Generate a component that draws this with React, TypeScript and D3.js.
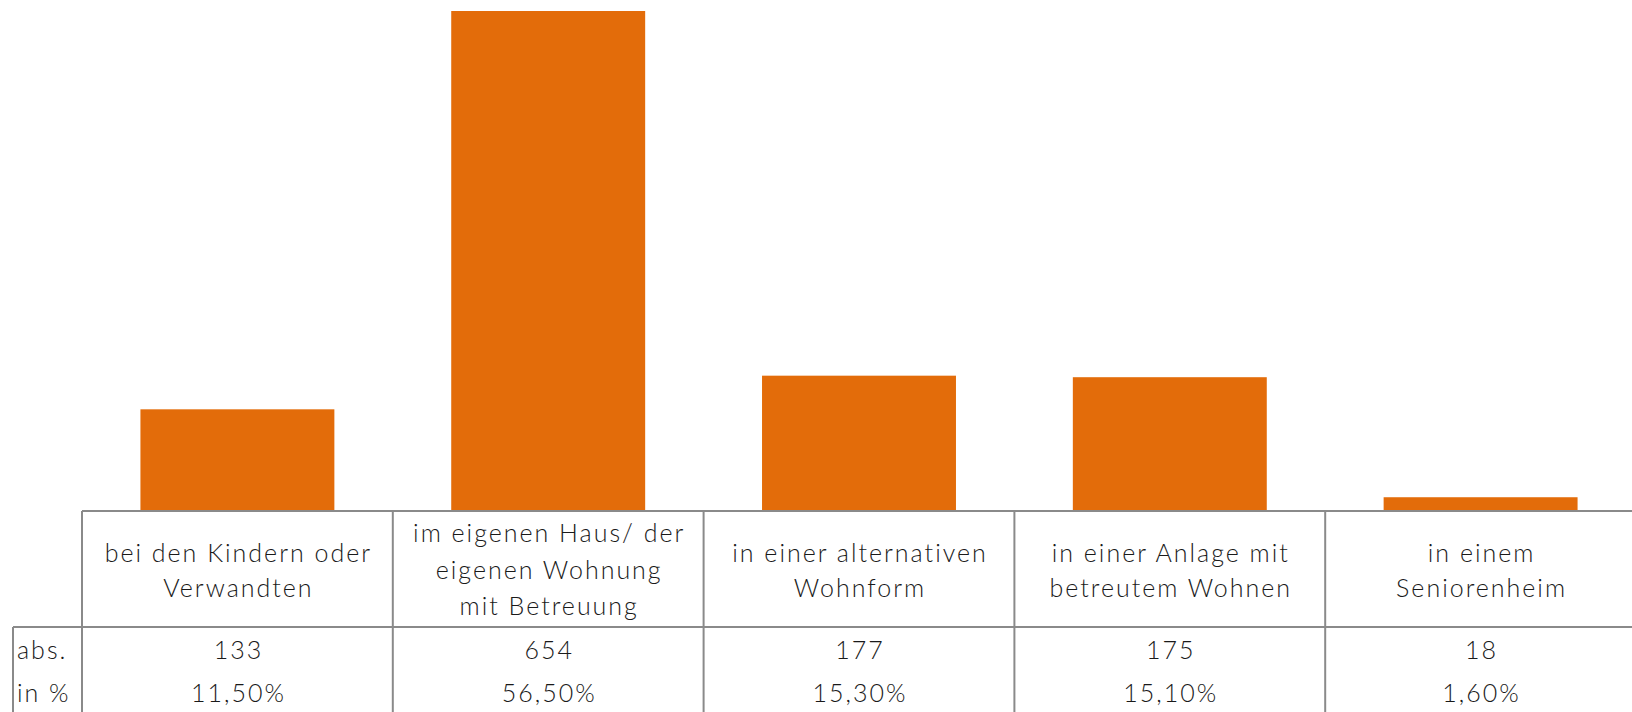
import React from "react";
import * as d3 from "d3";

const categories: string[][] = [
  ["bei den Kindern oder", "Verwandten"],
  ["im eigenen Haus/ der", "eigenen Wohnung", "mit Betreuung"],
  ["in einer alternativen", "Wohnform"],
  ["in einer Anlage mit", "betreutem Wohnen"],
  ["in einem", "Seniorenheim"],
];
const keys = ["k1", "k2", "k3", "k4", "k5"];
const absValues = [133, 654, 177, 175, 18];
const pctLabels = ["11,50%", "56,50%", "15,30%", "15,10%", "1,60%"];
const rowLabels = ["abs.", "in %"];

const W = 1632;
const H = 712;
const COLOR = "#E36C0A";
const GRID = "#8a8a8a";
const FONT = "Lato, 'Open Sans', sans-serif";

export default function App() {
  const tableLeft = 82;
  const tableRight = 1636;
  const axisY = 511;
  const rowSepY = 627;
  const labelLeft = 13;

  const col = d3.scaleBand<string>().domain(keys).range([tableLeft, tableRight]).padding(0);
  const bar = d3
    .scaleBand<string>()
    .domain(keys)
    .range([tableLeft, tableRight])
    .paddingInner(0.376)
    .paddingOuter(0.188);
  const y = d3.scaleLinear().domain([0, 654]).range([axisY, 11]);

  const fs = 25;
  const ls = 2;

  return (
    <div style={{ position: "absolute", left: 0, top: 0 }}>
      <svg width={W} height={H} style={{ display: "block" }}>
        <rect width={W} height={H} fill="#fff" />
        {keys.map((k, i) => (
          <rect
            key={k}
            x={bar(k)}
            y={y(absValues[i])}
            width={bar.bandwidth()}
            height={axisY - y(absValues[i])}
            fill={COLOR}
          />
        ))}
        <g stroke={GRID} strokeWidth={2} fill="none">
          <line x1={tableLeft} x2={tableRight} y1={axisY} y2={axisY} />
          <line x1={labelLeft} x2={tableRight} y1={rowSepY} y2={rowSepY} />
          <line x1={labelLeft} x2={labelLeft} y1={rowSepY} y2={H} />
          {keys.map((k) => (
            <line key={k} x1={col(k)} x2={col(k)} y1={axisY} y2={H} />
          ))}
        </g>
        <g
          fontFamily={FONT}
          fontWeight={300}
          fontSize={fs}
          letterSpacing={ls}
          fill="#1a1a1a"
          textAnchor="middle"
        >
          {keys.map((k, i) => {
            const lines = categories[i];
            const cx = (col(k) as number) + col.bandwidth() / 2 + ls / 2;
            const spacing = lines.length === 3 ? 36.3 : 35;
            const firstBase = lines.length === 3 ? 542.3 : 561.7;
            return (
              <text key={k}>
                {lines.map((l, j) => (
                  <tspan key={j} x={cx} y={firstBase + j * spacing}>
                    {l}
                  </tspan>
                ))}
              </text>
            );
          })}
          {keys.map((k, i) => {
            const cx = (col(k) as number) + col.bandwidth() / 2 + ls / 2;
            return (
              <g key={k}>
                <text x={cx} y={659}>
                  {d3.format("d")(absValues[i])}
                </text>
                <text x={cx} y={702}>
                  {pctLabels[i]}
                </text>
              </g>
            );
          })}
          <text x={17} y={659} textAnchor="start">
            {rowLabels[0]}
          </text>
          <text x={17} y={702} textAnchor="start">
            {rowLabels[1]}
          </text>
        </g>
      </svg>
    </div>
  );
}
